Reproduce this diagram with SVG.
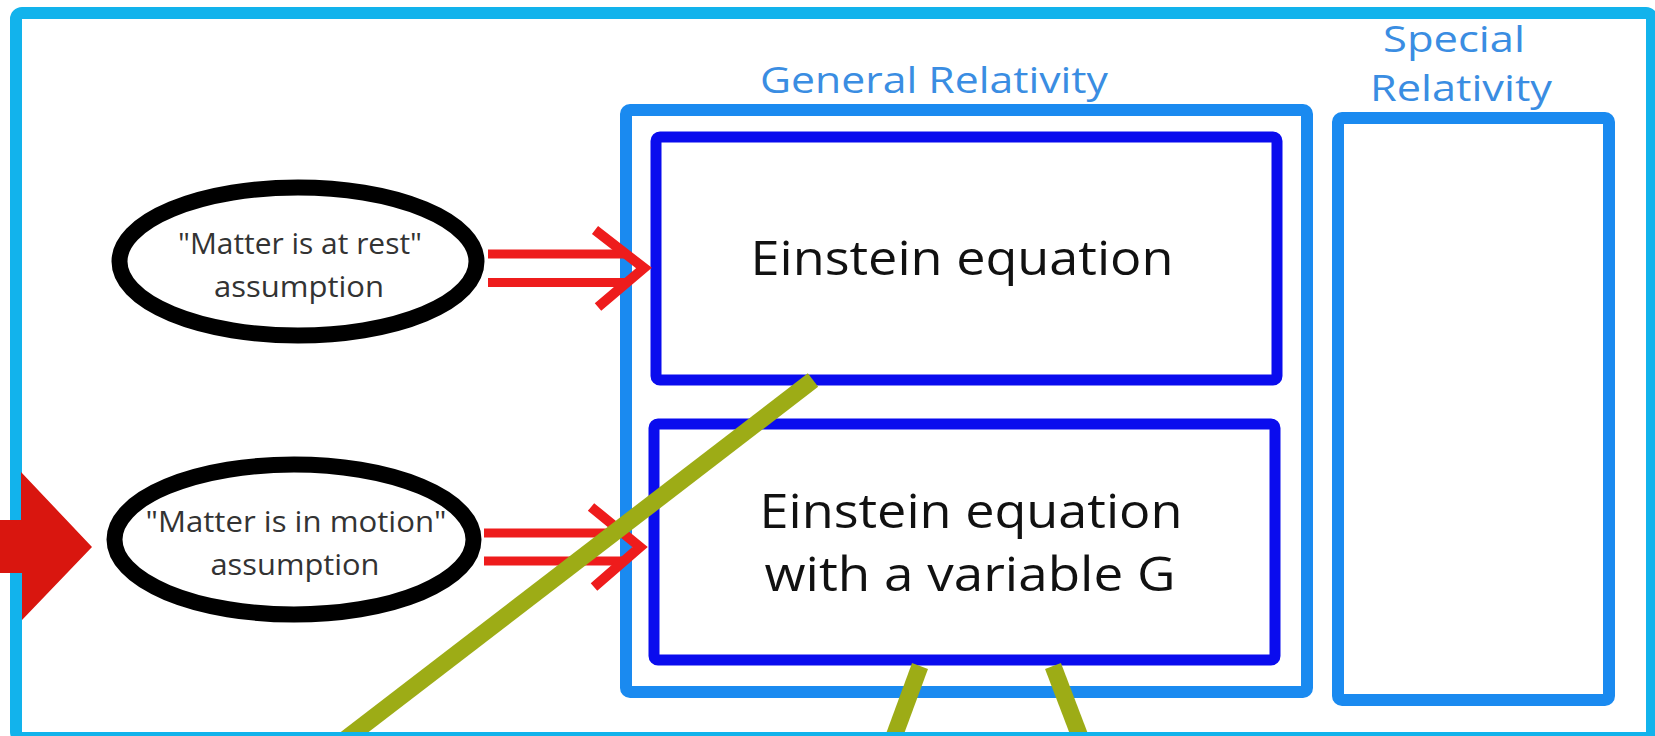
<svg xmlns="http://www.w3.org/2000/svg" width="1655" height="736" viewBox="0 0 1655 736">
  <style>
    .lbl { font-family: "Open Sans", "Noto Sans", "Liberation Sans", sans-serif; fill: #3a8de2; text-anchor: middle; }
    .eq { font-family: "Open Sans", "Noto Sans", "Liberation Sans", sans-serif; fill: #111; text-anchor: middle; font-size: 48px; }
    .asm { font-family: "Open Sans", "Noto Sans", "Liberation Sans", sans-serif; fill: #333; text-anchor: middle; font-size: 29px; }
    .container { fill: none; stroke: #1a8af0; stroke-width: 12; }
    .box { fill: #fff; stroke: #0a0cee; stroke-width: 11; }
    .ell { fill: #fff; stroke: #000; stroke-width: 16; }
    .dbl { stroke: #ee1c1c; stroke-width: 9; fill: none; }
    .chev { stroke: #ee1c1c; stroke-width: 10; fill: none; stroke-linejoin: miter; }
    .olive { stroke: #9dac16; stroke-width: 17; fill: none; }
  </style>
  <rect x="0" y="0" width="1655" height="736" fill="#fff"/>

  <g id="general-relativity">
    <rect class="container" x="626" y="110" width="681" height="582" rx="4"/>
    <text class="lbl" x="934" y="93" font-size="36" textLength="348" lengthAdjust="spacingAndGlyphs">General Relativity</text>
  </g>

  <g id="special-relativity">
    <rect class="container" x="1338" y="118" width="271" height="582" rx="4"/>
    <text class="lbl" x="1454" y="52" font-size="36" textLength="142" lengthAdjust="spacingAndGlyphs">Special</text>
    <text class="lbl" x="1461" y="101" font-size="36" textLength="182" lengthAdjust="spacingAndGlyphs">Relativity</text>
  </g>

  <g id="einstein-equation">
    <rect class="box" x="656" y="137" width="621" height="243" rx="4"/>
    <text class="eq" x="962" y="275" textLength="423" lengthAdjust="spacingAndGlyphs">Einstein equation</text>
  </g>

  <g id="einstein-equation-variable-g">
    <rect class="box" x="654" y="424" width="621" height="236" rx="4"/>
    <text class="eq" x="971" y="528" textLength="423" lengthAdjust="spacingAndGlyphs">Einstein equation</text>
    <text class="eq" x="970" y="591" textLength="411" lengthAdjust="spacingAndGlyphs">with a variable G</text>
  </g>

  <g id="matter-at-rest">
    <ellipse class="ell" cx="298" cy="261.5" rx="178.5" ry="74"/>
    <text class="asm" x="300" y="254" textLength="244" lengthAdjust="spacingAndGlyphs">"Matter is at rest"</text>
    <text class="asm" x="299" y="297" textLength="170" lengthAdjust="spacingAndGlyphs">assumption</text>
  </g>

  <g id="matter-in-motion">
    <ellipse class="ell" cx="294" cy="539.5" rx="179.5" ry="75"/>
    <text class="asm" x="296" y="532" textLength="301" lengthAdjust="spacingAndGlyphs">"Matter is in motion"</text>
    <text class="asm" x="295" y="575" textLength="169" lengthAdjust="spacingAndGlyphs">assumption</text>
  </g>

  <g id="connectors">
    <path class="dbl" d="M488 254 H628 M488 282.5 H628"/>
    <path class="chev" d="M595 230 L644 268 L598 307"/>
    <path class="dbl" d="M484 533 H626 M484 561 H626"/>
    <path class="chev" d="M591 507 L640 547 L594 587"/>
    <path class="olive" d="M813 380 L343 741"/>
    <path class="olive" d="M920 666 L892 742"/>
    <path class="olive" d="M1053 666 L1082 742"/>
  </g>

  <g id="frame">
    <rect x="16" y="13" width="1636" height="725" rx="6" fill="none" stroke="#12b3ec" stroke-width="12"/>
  </g>

  <g id="input-arrow">
    <polygon points="0,520 21,520 21,472 92,547 22,620 22,573 0,573" fill="#d9160f"/>
  </g>
</svg>
